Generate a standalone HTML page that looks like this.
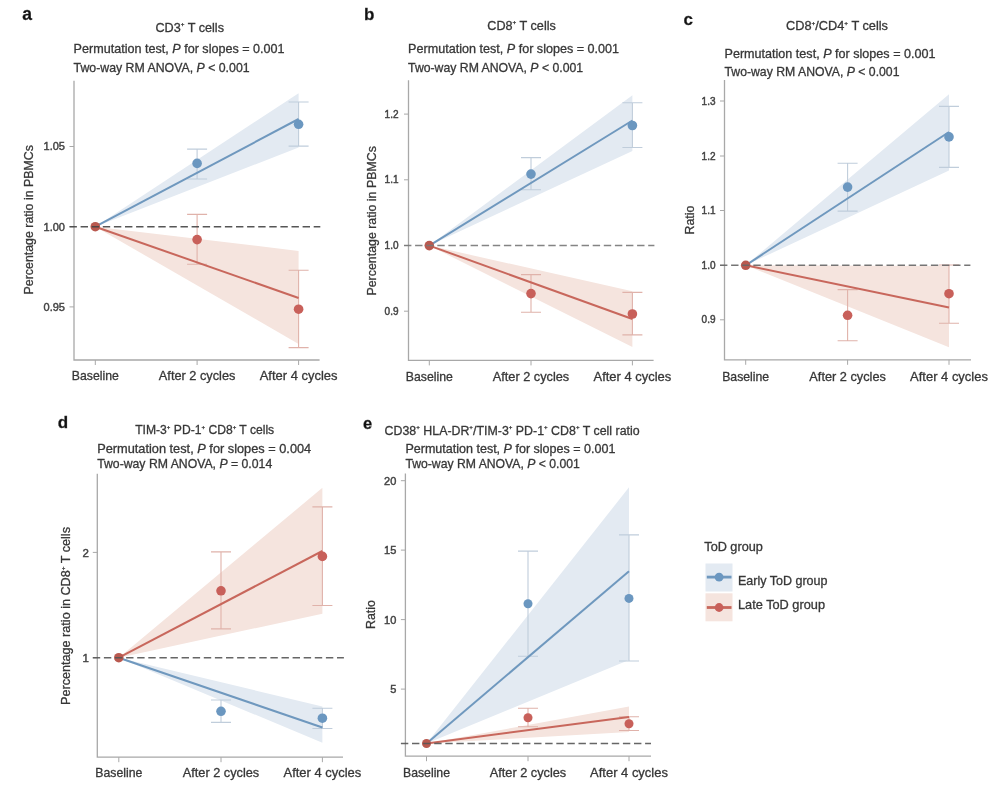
<!DOCTYPE html>
<html><head><meta charset="utf-8"><style>
html,body{margin:0;padding:0;background:#fff;}
svg{display:block;font-family:'Liberation Sans',sans-serif;filter:blur(0.55px);}
text{stroke:#3a3a3a;stroke-width:0.3px;}
</style></head><body>
<svg width="1000" height="787" viewBox="0 0 1000 787">
<rect width="1000" height="787" fill="#fff"/>
<g>
<text x="22.3" y="20.3" font-size="17.5" text-anchor="start" fill="#111" font-weight="bold" >a</text>
<text x="155.5" y="31.7" font-size="12.3" fill="#363636" textLength="68.5" lengthAdjust="spacingAndGlyphs">CD3<tspan dy="-5.6" font-size="6.2">+</tspan><tspan dy="5.6">​</tspan> T cells</text>
<text x="73.6" y="53" font-size="12.4" fill="#363636" textLength="211" lengthAdjust="spacingAndGlyphs">Permutation test, <tspan font-style="italic">P</tspan> for slopes = 0.001</text>
<text x="73.6" y="71.7" font-size="12.4" fill="#363636" textLength="176" lengthAdjust="spacingAndGlyphs">Two-way RM ANOVA, <tspan font-style="italic">P</tspan> &lt; 0.001</text>
<polygon points="95.3,226.7 298.6,93.2 298.6,147.5" fill="#e3eaf2"/>
<polygon points="95.3,226.7 298.6,250.9 298.6,344" fill="#f5e4de"/>
<path d="M74,80.7 V360 H319.6" fill="none" stroke="#a8a8a8" stroke-width="1.3"/>
<line x1="69.5" y1="146.5" x2="74" y2="146.5" stroke="#a8a8a8" stroke-width="1"/>
<text x="65" y="150.46" font-size="11" text-anchor="end" fill="#444" font-weight="normal" style="stroke:#444;stroke-width:0.45px">1.05</text>
<line x1="69.5" y1="226.7" x2="74" y2="226.7" stroke="#a8a8a8" stroke-width="1"/>
<text x="65" y="230.66" font-size="11" text-anchor="end" fill="#444" font-weight="normal" style="stroke:#444;stroke-width:0.45px">1.00</text>
<line x1="69.5" y1="306.9" x2="74" y2="306.9" stroke="#a8a8a8" stroke-width="1"/>
<text x="65" y="310.85999999999996" font-size="11" text-anchor="end" fill="#444" font-weight="normal" style="stroke:#444;stroke-width:0.45px">0.95</text>
<line x1="95.3" y1="360" x2="95.3" y2="365" stroke="#a8a8a8" stroke-width="1"/>
<text x="95.3" y="380.2" font-size="12.4" text-anchor="middle" fill="#363636" textLength="47" lengthAdjust="spacingAndGlyphs">Baseline</text>
<line x1="197.1" y1="360" x2="197.1" y2="365" stroke="#a8a8a8" stroke-width="1"/>
<text x="197.1" y="380.2" font-size="12.4" text-anchor="middle" fill="#363636" textLength="76.5" lengthAdjust="spacingAndGlyphs">After 2 cycles</text>
<line x1="298.6" y1="360" x2="298.6" y2="365" stroke="#a8a8a8" stroke-width="1"/>
<text x="298.6" y="380.2" font-size="12.4" text-anchor="middle" fill="#363636" textLength="77.8" lengthAdjust="spacingAndGlyphs">After 4 cycles</text>
<text transform="translate(33.3,219.75) rotate(-90)" font-size="12.4" text-anchor="middle" fill="#363636">Percentage ratio in PBMCs</text>
<path d="M187.1,149.1 H207.1 M197.1,149.1 V179 M187.1,179 H207.1" stroke="#c0cddb" stroke-width="1.1" fill="none"/>
<path d="M288.6,102 H308.6 M298.6,102 V146.1 M288.6,146.1 H308.6" stroke="#c0cddb" stroke-width="1.1" fill="none"/>
<line x1="95.3" y1="226.7" x2="298.6" y2="119" stroke="#6f98be" stroke-width="2"/>
<circle cx="197.1" cy="163.4" r="4.8" fill="#6b97c0"/>
<circle cx="298.6" cy="124.3" r="4.8" fill="#6b97c0"/>
<path d="M187.1,214.4 H207.1 M197.1,214.4 V264.3 M187.1,264.3 H207.1" stroke="#e0b2aa" stroke-width="1.1" fill="none"/>
<path d="M288.6,270.3 H308.6 M298.6,270.3 V347.6 M288.6,347.6 H308.6" stroke="#e0b2aa" stroke-width="1.1" fill="none"/>
<line x1="95.3" y1="226.7" x2="298.6" y2="298" stroke="#c8675c" stroke-width="2"/>
<circle cx="197.1" cy="239.6" r="4.8" fill="#c8605a"/>
<circle cx="298.6" cy="309.2" r="4.8" fill="#c8605a"/>
<circle cx="95.3" cy="226.7" r="4.8" fill="#b9594f"/>
<line x1="69.5" y1="226.7" x2="320.3" y2="226.7" stroke="#444" stroke-width="1.5" stroke-dasharray="7.4 3.7" stroke-opacity="0.9"/>
</g>
<g>
<text x="364" y="20.3" font-size="17" text-anchor="start" fill="#111" font-weight="bold" >b</text>
<text x="487.3" y="29.8" font-size="12.3" fill="#363636" textLength="68.5" lengthAdjust="spacingAndGlyphs">CD8<tspan dy="-5.6" font-size="6.2">+</tspan><tspan dy="5.6">​</tspan> T cells</text>
<text x="408.1" y="52.8" font-size="12.4" fill="#363636" textLength="211" lengthAdjust="spacingAndGlyphs">Permutation test, <tspan font-style="italic">P</tspan> for slopes = 0.001</text>
<text x="408.1" y="71.8" font-size="12.4" fill="#363636" textLength="175" lengthAdjust="spacingAndGlyphs">Two-way RM ANOVA, <tspan font-style="italic">P</tspan> &lt; 0.001</text>
<polygon points="429.3,245.6 632.4,95.2 632.4,151" fill="#e3eaf2"/>
<polygon points="429.3,245.6 632.4,291.2 632.4,347.1" fill="#f5e4de"/>
<path d="M408.5,80.3 V360.4 H653.6" fill="none" stroke="#a8a8a8" stroke-width="1.3"/>
<line x1="404.0" y1="114.1" x2="408.5" y2="114.1" stroke="#a8a8a8" stroke-width="1"/>
<text x="398.5" y="117.69999999999999" font-size="10" text-anchor="end" fill="#444" font-weight="normal" style="stroke:#444;stroke-width:0.45px">1.2</text>
<line x1="404.0" y1="179.8" x2="408.5" y2="179.8" stroke="#a8a8a8" stroke-width="1"/>
<text x="398.5" y="183.4" font-size="10" text-anchor="end" fill="#444" font-weight="normal" style="stroke:#444;stroke-width:0.45px">1.1</text>
<line x1="404.0" y1="245.5" x2="408.5" y2="245.5" stroke="#a8a8a8" stroke-width="1"/>
<text x="398.5" y="249.1" font-size="10" text-anchor="end" fill="#444" font-weight="normal" style="stroke:#444;stroke-width:0.45px">1.0</text>
<line x1="404.0" y1="311.2" x2="408.5" y2="311.2" stroke="#a8a8a8" stroke-width="1"/>
<text x="398.5" y="314.8" font-size="10" text-anchor="end" fill="#444" font-weight="normal" style="stroke:#444;stroke-width:0.45px">0.9</text>
<line x1="429.3" y1="360.4" x2="429.3" y2="365.4" stroke="#a8a8a8" stroke-width="1"/>
<text x="429.3" y="380.6" font-size="12.4" text-anchor="middle" fill="#363636" textLength="47" lengthAdjust="spacingAndGlyphs">Baseline</text>
<line x1="531" y1="360.4" x2="531" y2="365.4" stroke="#a8a8a8" stroke-width="1"/>
<text x="531" y="380.6" font-size="12.4" text-anchor="middle" fill="#363636" textLength="76.5" lengthAdjust="spacingAndGlyphs">After 2 cycles</text>
<line x1="632.4" y1="360.4" x2="632.4" y2="365.4" stroke="#a8a8a8" stroke-width="1"/>
<text x="632.4" y="380.6" font-size="12.4" text-anchor="middle" fill="#363636" textLength="77.8" lengthAdjust="spacingAndGlyphs">After 4 cycles</text>
<text transform="translate(375.6,220.85) rotate(-90)" font-size="12.4" text-anchor="middle" fill="#363636">Percentage ratio in PBMCs</text>
<path d="M521,157.6 H541 M531,157.6 V189.8 M521,189.8 H541" stroke="#c0cddb" stroke-width="1.1" fill="none"/>
<path d="M622.4,102.8 H642.4 M632.4,102.8 V147.5 M622.4,147.5 H642.4" stroke="#c0cddb" stroke-width="1.1" fill="none"/>
<line x1="429.3" y1="245.6" x2="632.4" y2="120.5" stroke="#6f98be" stroke-width="2"/>
<circle cx="531" cy="174.1" r="4.8" fill="#6b97c0"/>
<circle cx="632.4" cy="125.5" r="4.8" fill="#6b97c0"/>
<path d="M521,274.6 H541 M531,274.6 V312.3 M521,312.3 H541" stroke="#e0b2aa" stroke-width="1.1" fill="none"/>
<path d="M622.4,292.4 H642.4 M632.4,292.4 V334.9 M622.4,334.9 H642.4" stroke="#e0b2aa" stroke-width="1.1" fill="none"/>
<line x1="429.3" y1="245.6" x2="632.4" y2="319" stroke="#c8675c" stroke-width="2"/>
<circle cx="531" cy="293.6" r="4.8" fill="#c8605a"/>
<circle cx="632.4" cy="314" r="4.8" fill="#c8605a"/>
<circle cx="429.3" cy="245.6" r="4.8" fill="#b9594f"/>
<line x1="404.0" y1="245.6" x2="654.4" y2="245.6" stroke="#777" stroke-width="1.5" stroke-dasharray="7.4 3.7" stroke-opacity="0.9"/>
</g>
<g>
<text x="683.6" y="24.8" font-size="17" text-anchor="start" fill="#111" font-weight="bold" >c</text>
<text x="786" y="30.4" font-size="12.3" fill="#363636" textLength="102" lengthAdjust="spacingAndGlyphs">CD8<tspan dy="-5.6" font-size="6.2">+</tspan><tspan dy="5.6">​</tspan>/CD4<tspan dy="-5.6" font-size="6.2">+</tspan><tspan dy="5.6">​</tspan> T cells</text>
<text x="724.5" y="57.8" font-size="12.4" fill="#363636" textLength="211" lengthAdjust="spacingAndGlyphs">Permutation test, <tspan font-style="italic">P</tspan> for slopes = 0.001</text>
<text x="724.5" y="76.2" font-size="12.4" fill="#363636" textLength="175" lengthAdjust="spacingAndGlyphs">Two-way RM ANOVA, <tspan font-style="italic">P</tspan> &lt; 0.001</text>
<polygon points="745.7,265.3 949,94.2 949,170.4" fill="#e3eaf2"/>
<polygon points="745.7,265.3 949,266 949,347.2" fill="#f5e4de"/>
<path d="M724.5,80 V359.8 H971" fill="none" stroke="#a8a8a8" stroke-width="1.3"/>
<line x1="720.0" y1="101" x2="724.5" y2="101" stroke="#a8a8a8" stroke-width="1"/>
<text x="715.5" y="104.6" font-size="10" text-anchor="end" fill="#444" font-weight="normal" style="stroke:#444;stroke-width:0.45px">1.3</text>
<line x1="720.0" y1="156" x2="724.5" y2="156" stroke="#a8a8a8" stroke-width="1"/>
<text x="715.5" y="159.6" font-size="10" text-anchor="end" fill="#444" font-weight="normal" style="stroke:#444;stroke-width:0.45px">1.2</text>
<line x1="720.0" y1="210.5" x2="724.5" y2="210.5" stroke="#a8a8a8" stroke-width="1"/>
<text x="715.5" y="214.1" font-size="10" text-anchor="end" fill="#444" font-weight="normal" style="stroke:#444;stroke-width:0.45px">1.1</text>
<line x1="720.0" y1="265.3" x2="724.5" y2="265.3" stroke="#a8a8a8" stroke-width="1"/>
<text x="715.5" y="268.90000000000003" font-size="10" text-anchor="end" fill="#444" font-weight="normal" style="stroke:#444;stroke-width:0.45px">1.0</text>
<line x1="720.0" y1="319.8" x2="724.5" y2="319.8" stroke="#a8a8a8" stroke-width="1"/>
<text x="715.5" y="323.40000000000003" font-size="10" text-anchor="end" fill="#444" font-weight="normal" style="stroke:#444;stroke-width:0.45px">0.9</text>
<line x1="745.7" y1="359.8" x2="745.7" y2="364.8" stroke="#a8a8a8" stroke-width="1"/>
<text x="745.7" y="381" font-size="12.4" text-anchor="middle" fill="#363636" textLength="47" lengthAdjust="spacingAndGlyphs">Baseline</text>
<line x1="847.6" y1="359.8" x2="847.6" y2="364.8" stroke="#a8a8a8" stroke-width="1"/>
<text x="847.6" y="381" font-size="12.4" text-anchor="middle" fill="#363636" textLength="76.5" lengthAdjust="spacingAndGlyphs">After 2 cycles</text>
<line x1="949" y1="359.8" x2="949" y2="364.8" stroke="#a8a8a8" stroke-width="1"/>
<text x="949" y="381" font-size="12.4" text-anchor="middle" fill="#363636" textLength="77.8" lengthAdjust="spacingAndGlyphs">After 4 cycles</text>
<text transform="translate(694.1,220.1) rotate(-90)" font-size="12.4" text-anchor="middle" fill="#363636">Ratio</text>
<path d="M837.6,163.3 H857.6 M847.6,163.3 V211.1 M837.6,211.1 H857.6" stroke="#c0cddb" stroke-width="1.1" fill="none"/>
<path d="M939,106.4 H959 M949,106.4 V167.4 M939,167.4 H959" stroke="#c0cddb" stroke-width="1.1" fill="none"/>
<line x1="745.7" y1="265.3" x2="949" y2="132" stroke="#6f98be" stroke-width="2"/>
<circle cx="847.6" cy="187.1" r="4.8" fill="#6b97c0"/>
<circle cx="949" cy="136.9" r="4.8" fill="#6b97c0"/>
<path d="M837.6,289.6 H857.6 M847.6,289.6 V340.7 M837.6,340.7 H857.6" stroke="#e0b2aa" stroke-width="1.1" fill="none"/>
<path d="M939,265 H959 M949,265 V323.2 M939,323.2 H959" stroke="#e0b2aa" stroke-width="1.1" fill="none"/>
<line x1="745.7" y1="265.3" x2="949" y2="307.6" stroke="#c8675c" stroke-width="2"/>
<circle cx="847.6" cy="315.3" r="4.8" fill="#c8605a"/>
<circle cx="949" cy="293.7" r="4.8" fill="#c8605a"/>
<circle cx="745.7" cy="265.3" r="4.8" fill="#b9594f"/>
<line x1="720.0" y1="265.3" x2="970.4" y2="265.3" stroke="#666" stroke-width="1.5" stroke-dasharray="7.4 3.7" stroke-opacity="0.9"/>
</g>
<g>
<text x="57.8" y="428.4" font-size="17" text-anchor="start" fill="#111" font-weight="bold" >d</text>
<text x="135.2" y="434.4" font-size="12.3" fill="#363636" textLength="139" lengthAdjust="spacingAndGlyphs">TIM-3<tspan dy="-5.6" font-size="6.2">+</tspan><tspan dy="5.6">​</tspan> PD-1<tspan dy="-5.6" font-size="6.2">+</tspan><tspan dy="5.6">​</tspan> CD8<tspan dy="-5.6" font-size="6.2">+</tspan><tspan dy="5.6">​</tspan> T cells</text>
<text x="97.2" y="453" font-size="12.4" fill="#363636" textLength="214" lengthAdjust="spacingAndGlyphs">Permutation test, <tspan font-style="italic">P</tspan> for slopes = 0.004</text>
<text x="97.2" y="468" font-size="12.4" fill="#363636" textLength="175" lengthAdjust="spacingAndGlyphs">Two-way RM ANOVA, <tspan font-style="italic">P</tspan> = 0.014</text>
<polygon points="118.8,657.7 322.4,487.8 322.4,613.7" fill="#f5e4de"/>
<polygon points="118.8,657.7 322.4,706.5 322.4,742.8" fill="#e3eaf2"/>
<path d="M97.3,473.8 V757.2 H343" fill="none" stroke="#a8a8a8" stroke-width="1.3"/>
<line x1="92.8" y1="552.4" x2="97.3" y2="552.4" stroke="#a8a8a8" stroke-width="1"/>
<text x="89" y="556.54" font-size="11.5" text-anchor="end" fill="#444" font-weight="normal" style="stroke:#444;stroke-width:0.45px">2</text>
<line x1="92.8" y1="657.8" x2="97.3" y2="657.8" stroke="#a8a8a8" stroke-width="1"/>
<text x="89" y="661.9399999999999" font-size="11.5" text-anchor="end" fill="#444" font-weight="normal" style="stroke:#444;stroke-width:0.45px">1</text>
<line x1="118.8" y1="757.2" x2="118.8" y2="762.2" stroke="#a8a8a8" stroke-width="1"/>
<text x="118.8" y="777.3" font-size="12.4" text-anchor="middle" fill="#363636" textLength="47" lengthAdjust="spacingAndGlyphs">Baseline</text>
<line x1="221" y1="757.2" x2="221" y2="762.2" stroke="#a8a8a8" stroke-width="1"/>
<text x="221" y="777.3" font-size="12.4" text-anchor="middle" fill="#363636" textLength="76.5" lengthAdjust="spacingAndGlyphs">After 2 cycles</text>
<line x1="322.4" y1="757.2" x2="322.4" y2="762.2" stroke="#a8a8a8" stroke-width="1"/>
<text x="322.4" y="777.3" font-size="12.4" text-anchor="middle" fill="#363636" textLength="77.8" lengthAdjust="spacingAndGlyphs">After 4 cycles</text>
<text transform="translate(70.1,616) rotate(-90)" font-size="12.4" text-anchor="middle" fill="#363636" textLength="178" lengthAdjust="spacingAndGlyphs">Percentage ratio in CD8<tspan dy="-5.6" font-size="6.2">+</tspan><tspan dy="5.6">​</tspan> T cells</text>
<path d="M211,551.9 H231 M221,551.9 V628.9 M211,628.9 H231" stroke="#e0b2aa" stroke-width="1.1" fill="none"/>
<path d="M312.4,506.9 H332.4 M322.4,506.9 V605.5 M312.4,605.5 H332.4" stroke="#e0b2aa" stroke-width="1.1" fill="none"/>
<line x1="118.8" y1="657.7" x2="322.4" y2="551" stroke="#c8675c" stroke-width="2"/>
<circle cx="221" cy="590.8" r="4.8" fill="#c8605a"/>
<circle cx="322.4" cy="556.4" r="4.8" fill="#c8605a"/>
<path d="M211,700 H231 M221,700 V722.4 M211,722.4 H231" stroke="#c0cddb" stroke-width="1.1" fill="none"/>
<path d="M312.4,708.3 H332.4 M322.4,708.3 V728.5 M312.4,728.5 H332.4" stroke="#c0cddb" stroke-width="1.1" fill="none"/>
<line x1="118.8" y1="657.7" x2="322.4" y2="727.5" stroke="#6f98be" stroke-width="2"/>
<circle cx="221" cy="711.3" r="4.8" fill="#6b97c0"/>
<circle cx="322.4" cy="718.2" r="4.8" fill="#6b97c0"/>
<circle cx="118.8" cy="657.7" r="4.8" fill="#b9594f"/>
<line x1="92.8" y1="657.7" x2="343.9" y2="657.7" stroke="#555" stroke-width="1.5" stroke-dasharray="7.4 3.7" stroke-opacity="0.9"/>
</g>
<g>
<text x="363" y="429.2" font-size="16.5" text-anchor="start" fill="#111" font-weight="bold" >e</text>
<text x="384.6" y="434.6" font-size="12.3" fill="#363636" textLength="255" lengthAdjust="spacingAndGlyphs">CD38<tspan dy="-5.6" font-size="6.2">+</tspan><tspan dy="5.6">​</tspan> HLA-DR<tspan dy="-5.6" font-size="6.2">+</tspan><tspan dy="5.6">​</tspan>/TIM-3<tspan dy="-5.6" font-size="6.2">+</tspan><tspan dy="5.6">​</tspan> PD-1<tspan dy="-5.6" font-size="6.2">+</tspan><tspan dy="5.6">​</tspan> CD8<tspan dy="-5.6" font-size="6.2">+</tspan><tspan dy="5.6">​</tspan> T cell ratio</text>
<text x="405.4" y="453.2" font-size="12.4" fill="#363636" textLength="210" lengthAdjust="spacingAndGlyphs">Permutation test, <tspan font-style="italic">P</tspan> for slopes = 0.001</text>
<text x="405.4" y="467.6" font-size="12.4" fill="#363636" textLength="174.5" lengthAdjust="spacingAndGlyphs">Two-way RM ANOVA, <tspan font-style="italic">P</tspan> &lt; 0.001</text>
<polygon points="426.5,743.5 629,487.3 629,660" fill="#e3eaf2"/>
<polygon points="426.5,743.5 629,706.5 629,732" fill="#f5e4de"/>
<path d="M405.4,473.6 V756.2 H651" fill="none" stroke="#a8a8a8" stroke-width="1.3"/>
<line x1="400.9" y1="480.7" x2="405.4" y2="480.7" stroke="#a8a8a8" stroke-width="1"/>
<text x="396.3" y="484.65999999999997" font-size="11" text-anchor="end" fill="#444" font-weight="normal" style="stroke:#444;stroke-width:0.45px">20</text>
<line x1="400.9" y1="550.1" x2="405.4" y2="550.1" stroke="#a8a8a8" stroke-width="1"/>
<text x="396.3" y="554.0600000000001" font-size="11" text-anchor="end" fill="#444" font-weight="normal" style="stroke:#444;stroke-width:0.45px">15</text>
<line x1="400.9" y1="619.6" x2="405.4" y2="619.6" stroke="#a8a8a8" stroke-width="1"/>
<text x="396.3" y="623.5600000000001" font-size="11" text-anchor="end" fill="#444" font-weight="normal" style="stroke:#444;stroke-width:0.45px">10</text>
<line x1="400.9" y1="689.1" x2="405.4" y2="689.1" stroke="#a8a8a8" stroke-width="1"/>
<text x="396.3" y="693.0600000000001" font-size="11" text-anchor="end" fill="#444" font-weight="normal" style="stroke:#444;stroke-width:0.45px">5</text>
<line x1="426.5" y1="756.2" x2="426.5" y2="761.2" stroke="#a8a8a8" stroke-width="1"/>
<text x="426.5" y="777" font-size="12.4" text-anchor="middle" fill="#363636" textLength="47" lengthAdjust="spacingAndGlyphs">Baseline</text>
<line x1="528" y1="756.2" x2="528" y2="761.2" stroke="#a8a8a8" stroke-width="1"/>
<text x="528" y="777" font-size="12.4" text-anchor="middle" fill="#363636" textLength="76.5" lengthAdjust="spacingAndGlyphs">After 2 cycles</text>
<line x1="629" y1="756.2" x2="629" y2="761.2" stroke="#a8a8a8" stroke-width="1"/>
<text x="629" y="777" font-size="12.4" text-anchor="middle" fill="#363636" textLength="77.8" lengthAdjust="spacingAndGlyphs">After 4 cycles</text>
<text transform="translate(375.4,614.6) rotate(-90)" font-size="12.4" text-anchor="middle" fill="#363636">Ratio</text>
<path d="M518,551.1 H538 M528,551.1 V656.2 M518,656.2 H538" stroke="#c0cddb" stroke-width="1.1" fill="none"/>
<path d="M619,534.9 H639 M629,534.9 V661 M619,661 H639" stroke="#c0cddb" stroke-width="1.1" fill="none"/>
<line x1="426.5" y1="743.5" x2="629" y2="571.3" stroke="#6f98be" stroke-width="2"/>
<circle cx="528" cy="603.8" r="4.5" fill="#6b97c0"/>
<circle cx="629" cy="598.4" r="4.5" fill="#6b97c0"/>
<path d="M518,708.3 H538 M528,708.3 V726.7 M518,726.7 H538" stroke="#e0b2aa" stroke-width="1.1" fill="none"/>
<path d="M619,716.7 H639 M629,716.7 V730.5 M619,730.5 H639" stroke="#e0b2aa" stroke-width="1.1" fill="none"/>
<line x1="426.5" y1="743.5" x2="629" y2="717" stroke="#c8675c" stroke-width="2"/>
<circle cx="528" cy="717.7" r="4.5" fill="#c8605a"/>
<circle cx="629" cy="723.7" r="4.5" fill="#c8605a"/>
<circle cx="426.5" cy="743.5" r="4.5" fill="#b9594f"/>
<line x1="400.9" y1="743.5" x2="651" y2="743.5" stroke="#555" stroke-width="1.5" stroke-dasharray="7.4 3.7" stroke-opacity="0.9"/>
</g>
<text x="704.3" y="550.8" font-size="12.4" fill="#363636" textLength="58.5" lengthAdjust="spacingAndGlyphs">ToD group</text>
<rect x="705.5" y="563.5" width="27" height="28" fill="#e3eaf2"/>
<rect x="705.5" y="593.3" width="27" height="28" fill="#f5e4de"/>
<line x1="706.8" y1="577.1" x2="731.5" y2="577.1" stroke="#6f98be" stroke-width="2.8"/>
<circle cx="719.1" cy="577.2" r="4.4" fill="#6b97c0"/>
<line x1="706.8" y1="607.5" x2="731.5" y2="607.5" stroke="#c8675c" stroke-width="2.8"/>
<circle cx="719.1" cy="607.5" r="4.4" fill="#c8605a"/>
<text x="738" y="584.6" font-size="12.4" fill="#363636" textLength="89.5" lengthAdjust="spacingAndGlyphs">Early ToD group</text>
<text x="738" y="608.9" font-size="12.4" fill="#363636" textLength="87" lengthAdjust="spacingAndGlyphs">Late ToD group</text>
</svg>
</body></html>
